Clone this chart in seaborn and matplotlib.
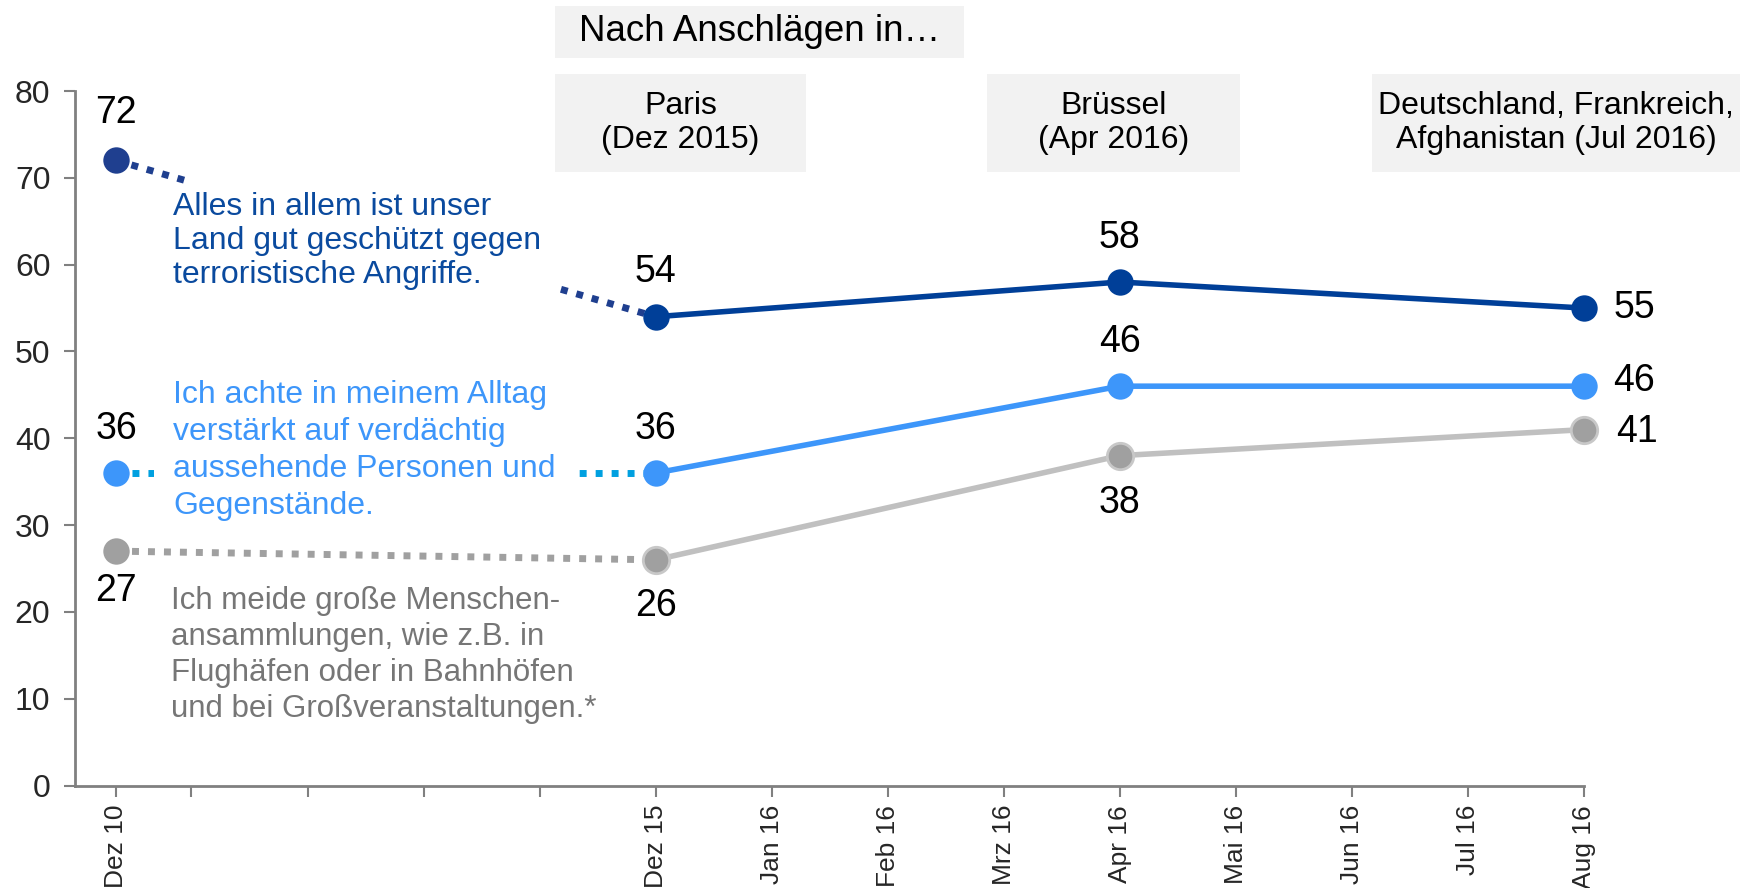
import matplotlib
matplotlib.use("Agg")
import matplotlib.pyplot as plt
from matplotlib.patches import Rectangle
import seaborn as sns

# Data
x_labels = ["Dez 10", "Dez 15", "Apr 16", "Aug 16"]
x_pos = [-4.65, 0, 4, 8]          # months relative to Dez 15 (Dez 10 squeezed in)
schutz = [72, 54, 58, 55]
achte = [36, 36, 46, 46]
meide = [27, 26, 38, 41]

tick_pos = [-4.65, -4, -3, -2, -1, 0, 1, 2, 3, 4, 5, 6, 7, 8]
tick_labels = ["Dez 10", "", "", "", "", "Dez 15", "Jan 16", "Feb 16", "Mrz 16",
               "Apr 16", "Mai 16", "Jun 16", "Jul 16", "Aug 16"]

events = ["Paris\n(Dez 2015)", "Brüssel\n(Apr 2016)",
          "Deutschland, Frankreich,\nAfghanistan (Jul 2016)"]

txt_schutz = "Alles in allem ist unser\nLand gut geschützt gegen\nterroristische Angriffe."
txt_achte = "Ich achte in meinem Alltag\nverstärkt auf verdächtig\naussehende Personen und\nGegenstände."
txt_meide = ("Ich meide große Menschen-\nansammlungen, wie z.B. in\n"
             "Flughäfen oder in Bahnhöfen\nund bei Großveranstaltungen.*")

sns.set_style("white")
plt.rcParams["font.family"] = ["Liberation Sans", "DejaVu Sans"]

c_dark = "#003f98"
c_dark_dot = "#1f3f8f"
c_light = "#3d96fa"
c_light_dot = "#00a0e0"
c_grey_line = "#c0c0c0"
c_grey_mark = "#a0a0a0"

fig = plt.figure(figsize=(17.42, 8.88), dpi=100)
ax = fig.add_axes([0.0433, 0.1154, 0.866, 0.7821])

ms = 19
# dotted connectors Dez 10 -> Dez 15
ax.plot(x_pos[:2], schutz[:2], color=c_dark_dot, lw=5, dashes=(1, 1.3),
        dash_capstyle="butt", zorder=1)
ax.plot(x_pos[:2], achte[:2], color=c_light_dot, lw=5, dashes=(1, 1.3),
        dash_capstyle="butt", zorder=1)
ax.plot(x_pos[:2], meide[:2], color=c_grey_mark, lw=5, dashes=(1, 1.3),
        dash_capstyle="butt", zorder=3)

# gaps in the dotted connectors where the descriptions sit
ax.add_patch(Rectangle((-4.03, 56), 3.21, 14.5, facecolor="white", edgecolor="none", zorder=1.5))
ax.add_patch(Rectangle((-4.32, 34.5), 3.64, 3, facecolor="white", edgecolor="none", zorder=1.5))

# solid lines from Dez 15 on
sns.lineplot(x=x_pos[1:], y=schutz[1:], color=c_dark, lw=4, marker="o",
             markersize=ms, markeredgewidth=0, ax=ax, zorder=4, clip_on=False)
sns.lineplot(x=x_pos[1:], y=achte[1:], color=c_light, lw=4, marker="o",
             markersize=ms, markeredgewidth=0, ax=ax, zorder=4, clip_on=False)
sns.lineplot(x=x_pos[1:], y=meide[1:], color=c_grey_line, lw=4, marker="o",
             markersize=ms, markerfacecolor=c_grey_mark, markeredgecolor="#c8c8c8",
             markeredgewidth=2, ax=ax, zorder=4, clip_on=False)

# Dez 10 markers
ax.plot(x_pos[0], schutz[0], "o", color=c_dark_dot, ms=ms, mew=0, zorder=5, clip_on=False)
ax.plot(x_pos[0], achte[0], "o", color=c_light, ms=ms, mew=0, zorder=5, clip_on=False)
ax.plot(x_pos[0], meide[0], "o", color=c_grey_mark, ms=ms, mew=0, zorder=5, clip_on=False)

# data labels
def lab(x, y, dx, dy):
    ax.annotate(str(y), (x, y), xytext=(dx, dy), textcoords="offset points",
                ha="center", va="center", fontsize=27, color="black", zorder=6,
                annotation_clip=False)

lab(x_pos[0], schutz[0], 0, 34)
lab(x_pos[1], schutz[1], 0, 32)
lab(x_pos[2], schutz[2], 0, 32)
lab(x_pos[3], schutz[3], 36, 0)
lab(x_pos[0], achte[0], 0, 32)
lab(x_pos[1], achte[1], 0, 32)
lab(x_pos[2], achte[2], 0, 32)
lab(x_pos[3], achte[3], 36, 4)
lab(x_pos[0], meide[0], 0, -29)
lab(x_pos[1], meide[1], 0, -33)
lab(x_pos[2], meide[2], 0, -34)
lab(x_pos[3], meide[3], 38, -2)

# series descriptions
ax.text(-4.16, 68.35, txt_schutz, color="#0a4a9e", fontsize=23,
        va="top", ha="left", linespacing=1.18, zorder=2)
ax.text(-4.16, 46.7, txt_achte, color=c_light, fontsize=23,
        va="top", ha="left", linespacing=1.31, zorder=2)
ax.text(-4.18, 23.0, txt_meide, color="#767676", fontsize=22.5,
        va="top", ha="left", linespacing=1.26, zorder=2)

# axes styling
ax.set_xlim(-5, 8)
ax.set_ylim(0, 80)
ax.set_yticks(range(0, 81, 10))
ax.set_xticks(tick_pos)
ax.set_xticklabels(tick_labels, rotation=90, fontsize=19)
ax.tick_params(axis="y", labelsize=23, length=8, color="#808080", width=1.5,
               direction="out", left=True, pad=10)
ax.tick_params(axis="x", length=8, color="#808080", width=1.5,
               direction="out", bottom=True, pad=6)
for side in ["top", "right"]:
    ax.spines[side].set_visible(False)
for side in ["left", "bottom"]:
    ax.spines[side].set_color("#808080")
    ax.spines[side].set_linewidth(2)
ax.set_xlabel("")
ax.set_ylabel("")

# event boxes at the top
bg = "#f2f2f2"
fig.patches.append(Rectangle((0.3186, 0.9347), 0.2348, 0.0591, transform=fig.transFigure,
                             facecolor=bg, edgecolor="none", zorder=0))
fig.text(0.436, 0.9643, "Nach Anschlägen in…", ha="center", va="center",
         fontsize=26.5, color="black")
boxes = [(0.3186, 0.1441, 0.3906), (0.5666, 0.1452, 0.6392), (0.7876, 0.2113, 0.8932)]
for (bx, bw, cx), label in zip(boxes, events):
    fig.patches.append(Rectangle((bx, 0.8063), bw, 0.1104, transform=fig.transFigure,
                                 facecolor=bg, edgecolor="none", zorder=0))
    fig.text(cx, 0.8615, label, ha="center", va="center", fontsize=23,
             color="black", linespacing=1.2)

fig.savefig("out.png", dpi=100)
